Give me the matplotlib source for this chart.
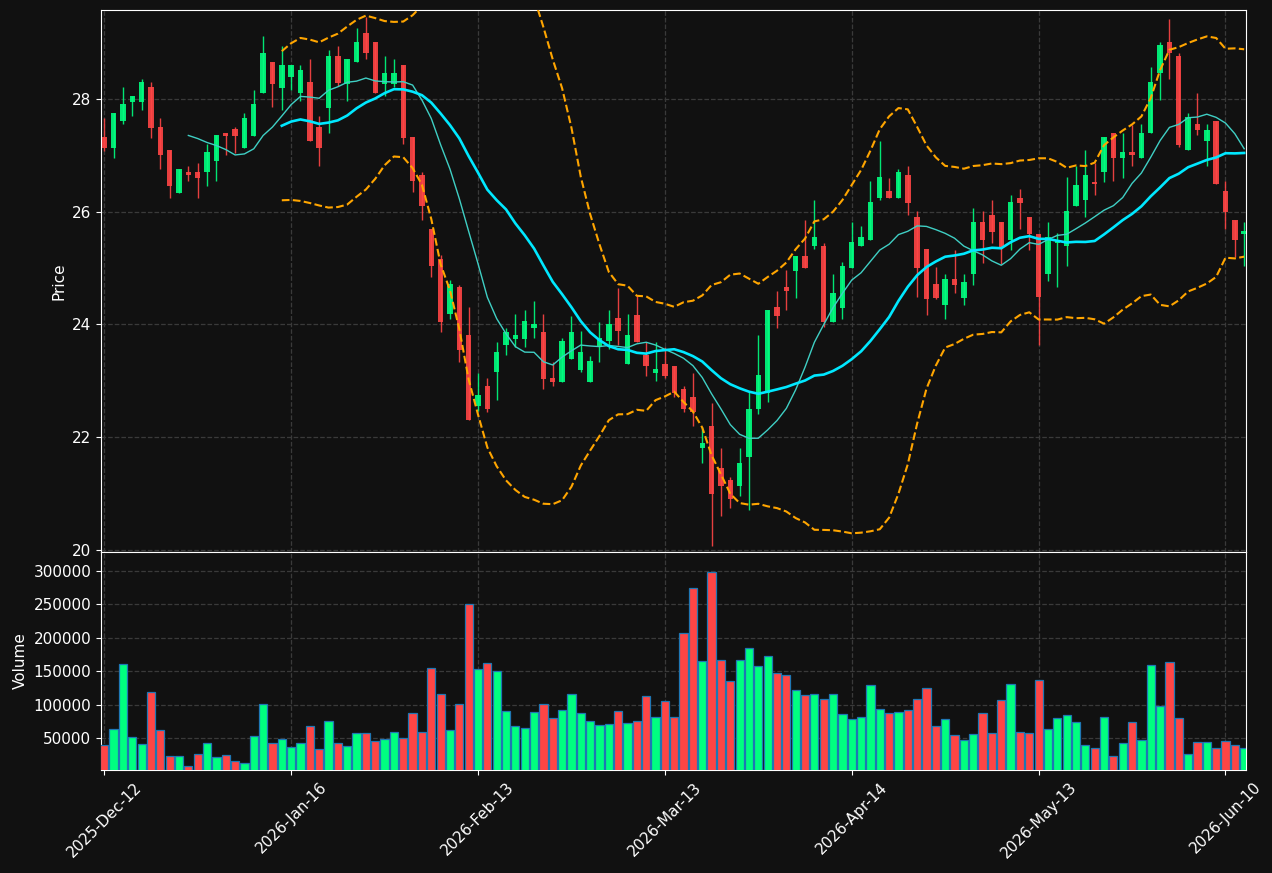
"""Candlestick chart with volume, moving averages and Bollinger bands (dark theme)."""

import matplotlib
matplotlib.use("Agg")
import matplotlib.pyplot as plt
import numpy as np
import pandas as pd

# --- data ------------------------------------------------------------------
opens = [
    27.32, 27.14, 27.61, 27.95, 27.95, 28.22, 27.51, 27.10, 26.34, 26.71,
    26.71, 26.70, 26.90, 27.40, 27.46, 27.14, 27.35, 28.10, 28.66, 28.20,
    28.40, 28.10, 28.31, 27.51, 27.85, 28.77, 28.26, 28.65, 29.18, 29.02,
    28.26, 28.26, 28.61, 27.32, 26.66, 25.70, 25.16, 24.18, 24.66, 23.81,
    22.55, 22.90, 23.15, 23.64, 23.74, 23.74, 23.94, 23.86, 23.05, 22.98,
    23.39, 23.19, 22.98, 23.59, 23.70, 24.11, 23.29, 24.16, 23.45, 23.14,
    23.30, 23.26, 22.86, 22.72, 21.80, 22.20, 21.45, 21.24, 21.14, 21.64,
    22.49, 22.78, 24.31, 24.66, 24.95, 25.21, 25.39, 25.40, 24.04, 24.29,
    25.00, 25.39, 25.49, 26.24, 26.36, 26.24, 26.66, 25.91, 25.33, 24.71,
    24.34, 24.80, 24.46, 24.89, 25.81, 25.95, 25.81, 25.49, 26.25, 25.91,
    25.61, 24.89, 25.45, 25.39, 26.10, 26.20, 26.53, 26.70, 27.40, 26.95,
    27.06, 26.95, 27.40, 28.46, 29.02, 28.77, 27.09, 27.56, 27.25, 27.61,
    26.36, 25.86, 25.61,
]
highs = [
    27.66, 27.76, 28.21, 28.06, 28.35, 28.30, 27.66, 27.10, 26.76, 26.81,
    26.86, 27.21, 27.37, 27.40, 27.50, 27.75, 28.16, 29.12, 28.66, 28.95,
    28.61, 28.61, 28.71, 27.70, 28.87, 28.95, 28.71, 29.26, 29.46, 29.02,
    28.76, 28.71, 28.61, 27.32, 26.70, 25.70, 25.24, 24.79, 24.70, 24.30,
    23.14, 23.04, 23.69, 23.94, 24.18, 24.25, 24.41, 24.19, 23.34, 23.75,
    24.15, 23.89, 23.44, 24.05, 24.25, 24.65, 24.19, 24.50, 23.69, 23.69,
    23.59, 23.26, 22.90, 23.14, 22.18, 22.60, 21.80, 21.29, 21.80, 22.80,
    23.81, 24.26, 24.60, 24.97, 25.21, 25.86, 26.21, 25.45, 24.90, 25.10,
    25.81, 25.75, 26.55, 27.26, 26.60, 26.76, 26.81, 26.01, 25.34, 25.01,
    24.90, 25.32, 24.90, 26.06, 26.01, 26.21, 25.81, 26.30, 26.41, 25.91,
    25.61, 25.81, 25.62, 26.61, 26.81, 27.10, 26.86, 27.32, 27.40, 27.40,
    27.54, 27.56, 28.57, 29.01, 29.42, 28.82, 27.75, 28.10, 27.56, 27.61,
    26.55, 25.86, 25.81,
]
lows = [
    27.07, 26.95, 27.55, 27.70, 27.80, 27.30, 26.76, 26.24, 26.34, 26.54,
    26.24, 26.46, 26.54, 27.01, 27.05, 27.14, 27.35, 28.10, 27.86, 27.80,
    28.16, 27.96, 27.25, 26.81, 27.40, 28.24, 27.96, 28.65, 28.71, 28.10,
    28.06, 28.21, 27.21, 26.35, 25.86, 24.84, 23.86, 24.10, 23.34, 22.30,
    22.46, 22.44, 22.65, 23.45, 23.59, 23.59, 23.75, 22.85, 22.90, 22.98,
    23.39, 23.15, 22.98, 23.34, 23.56, 23.64, 23.29, 23.69, 23.09, 22.99,
    23.04, 22.72, 22.44, 22.19, 21.54, 20.06, 20.60, 20.74, 20.95, 20.71,
    22.41, 22.63, 23.94, 24.25, 24.46, 25.00, 25.33, 23.95, 24.04, 24.10,
    25.00, 25.39, 25.49, 26.21, 26.24, 26.24, 25.94, 24.49, 24.16, 24.45,
    24.10, 24.55, 24.34, 24.70, 25.09, 25.45, 25.07, 25.32, 25.70, 25.32,
    23.64, 24.77, 24.66, 25.04, 26.10, 25.90, 26.30, 26.52, 26.55, 26.60,
    26.81, 26.95, 27.40, 27.99, 28.35, 27.15, 27.09, 27.36, 26.81, 26.50,
    25.70, 25.19, 25.04,
]
closes = [
    27.14, 27.76, 27.91, 28.06, 28.31, 27.49, 27.00, 26.46, 26.76, 26.65,
    26.59, 27.06, 27.37, 27.35, 27.35, 27.67, 27.91, 28.82, 28.26, 28.61,
    28.61, 28.52, 27.25, 27.14, 28.77, 28.29, 28.71, 29.02, 28.81, 28.10,
    28.47, 28.47, 27.30, 26.54, 26.10, 25.03, 24.04, 24.71, 23.55, 22.30,
    22.75, 22.49, 23.51, 23.86, 23.81, 24.06, 24.01, 23.03, 22.98, 23.70,
    23.86, 23.51, 23.35, 23.75, 24.01, 23.89, 23.81, 23.69, 23.26, 23.21,
    23.09, 22.79, 22.49, 22.44, 21.90, 20.99, 21.14, 20.90, 21.54, 22.50,
    23.11, 24.26, 24.15, 24.60, 25.21, 25.00, 25.56, 24.04, 24.55, 25.04,
    25.46, 25.56, 26.17, 26.61, 26.24, 26.71, 26.15, 25.00, 24.45, 24.47,
    24.80, 24.70, 24.76, 25.81, 25.49, 25.64, 25.38, 26.17, 26.15, 25.61,
    24.49, 25.56, 25.50, 26.01, 26.47, 26.66, 26.50, 27.32, 26.95, 27.06,
    27.00, 27.40, 28.31, 28.96, 28.81, 27.19, 27.68, 27.45, 27.45, 26.50,
    25.99, 25.50, 25.65,
]
volumes = [
    39500, 63500, 161400, 51500, 42000, 119300, 62000, 24400, 24400, 9300,
    27400, 42500, 22900, 25900, 16900, 13900, 53000, 101200, 42500, 48500,
    36400, 42500, 68000, 34000, 75600, 42500, 38000, 57500, 57500, 45500,
    48500, 59000, 50000, 87600, 59000, 155400, 116300, 62000, 101200, 250300,
    153900, 163000, 150900, 90700, 68000, 65000, 89200, 101200, 80100, 92200,
    116300, 87600, 75600, 69600, 71100, 90700, 72600, 75600, 113300, 81600,
    105700, 81600, 208100, 274400, 166000, 298500, 167500, 135800, 167500, 185500,
    158400, 173500, 147900, 144900, 122300, 114800, 116300, 108700, 116300, 86100,
    78600, 81600, 129800, 93700, 87600, 89200, 92200, 108700, 125300, 68000,
    78600, 54500, 47000, 56000, 87600, 57500, 107200, 131300, 59000, 57500,
    137300, 63600, 80100, 84600, 74100, 39500, 34900, 81600, 24400, 42500,
    74100, 47000, 159900, 98200, 164500, 80100, 27400, 44000, 44000, 34900,
    45500, 39500, 34900,
]
tick_labels = [
    "2025-Dec-12", "2026-Jan-16", "2026-Feb-13", "2026-Mar-13",
    "2026-Apr-14", "2026-May-13", "2026-Jun-10",
]
tick_step = 20

# --- style ------------------------------------------------------------------
BG = "#111111"
UP = "#00ff80"
DOWN = "#ff4545"
GRID = "#3a3a3a"
FS = 11

df = pd.DataFrame({"Open": opens, "High": highs, "Low": lows,
                   "Close": closes, "Volume": volumes})
x = np.arange(len(df))
up = df["Close"] >= df["Open"]
colors = np.where(up, UP, DOWN)

mav_fast = df["Close"].rolling(10).mean()
mav_slow = df["Close"].rolling(20).mean()
std20 = df["Close"].rolling(20).std(ddof=0)
band_hi = mav_slow + 2 * std20
band_lo = mav_slow - 2 * std20

fig = plt.figure(figsize=(12.72, 8.73), dpi=100, facecolor=BG)
ax = fig.add_axes([0.0794, 0.3677, 0.9002, 0.6208])
axv = fig.add_axes([0.0794, 0.1180, 0.9002, 0.2497], sharex=ax)

for a in (ax, axv):
    a.set_facecolor(BG)
    for s in a.spines.values():
        s.set_color("white")
    a.tick_params(colors="white", labelsize=FS, length=3.5)
    a.grid(True, color=GRID, linestyle="--", linewidth=0.9)
    a.set_axisbelow(True)

# candles
ax.vlines(x, df["Low"], df["High"], colors=colors, linewidth=1.0, alpha=0.9, zorder=2)
ax.bar(x, (df["Close"] - df["Open"]).abs().clip(lower=0.012),
       bottom=np.minimum(df["Open"], df["Close"]), width=0.58,
       color=colors, linewidth=0, alpha=0.9, zorder=3)

# overlays
ax.plot(x, mav_fast, color="#3fcfc4", linewidth=1.0, zorder=4)
ax.plot(x, mav_slow, color="#00e8ff", linewidth=1.9, zorder=4)
ax.plot(x, band_hi, color="#ffa500", linewidth=1.5, linestyle="--", zorder=4)
ax.plot(x, band_lo, color="#ffa500", linewidth=1.5, linestyle="--", zorder=4)

ax.set_xlim(-0.35, len(df) - 0.8)
ax.set_ylim(19.96, 29.58)
ax.set_yticks([20, 22, 24, 26, 28])
ax.set_ylabel("Price", color="white", fontsize=FS)
ax.tick_params(axis="x", labelbottom=False, length=0)

# volume
axv.bar(x, df["Volume"], width=0.88, color=colors,
        edgecolor="#1f77b4", linewidth=0.9, zorder=3)
axv.set_ylim(0.3 * min(volumes), 1.1 * max(volumes))
axv.set_yticks(range(50000, 300001, 50000))
axv.ticklabel_format(axis="y", style="plain")
axv.set_ylabel("Volume", color="white", fontsize=FS)

axv.set_xticks(range(0, len(df), tick_step))
axv.set_xticklabels(tick_labels, rotation=45, ha="center")

fig.savefig("out.png", dpi=100, facecolor=BG)
